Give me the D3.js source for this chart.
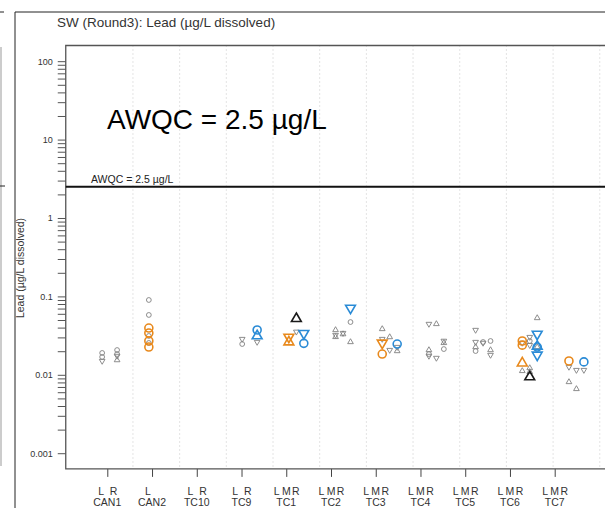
<!DOCTYPE html>
<html>
<head>
<meta charset="utf-8">
<script src="https://d3js.org/d3.v7.min.js"></script>
<style>
  body { margin: 0; background: #fff; }
  svg text { font-family: Arial, "Liberation Sans", sans-serif; }
</style>
</head>
<body>
<svg id="chart" width="605" height="508"></svg>
<script>
// categories along the bottom and the sampling sites under each one
const categories = ["CAN1", "CAN2", "TC10", "TC9", "TC1", "TC2", "TC3", "TC4", "TC5", "TC6", "TC7"];
const sites = [["L", "R"], ["L"], ["L", "R"], ["L", "R"], ["L", "M", "R"], ["L", "M", "R"],
  ["L", "M", "R"], ["L", "M", "R"], ["L", "M", "R"], ["L", "M", "R"], ["L", "M", "R"]];

const yTickValues = [0.001, 0.01, 0.1, 1, 10, 100];
const yTickLabels = ["0.001", "0.01", "0.1", "1", "10", "100"];
const awqc = 2.5;

// [category, site, shape, value]  shape: o circle, ^ up, v down
const grayPoints = [
  ["CAN1", "L", "o", 0.0190], ["CAN1", "L", "o", 0.0169], ["CAN1", "L", "v", 0.0150],
  ["CAN1", "R", "o", 0.0207], ["CAN1", "R", "o", 0.0184], ["CAN1", "R", "v", 0.0174], ["CAN1", "R", "^", 0.0154],
  ["CAN2", "L", "o", 0.090], ["CAN2", "L", "o", 0.058], ["CAN2", "L", "o", 0.0313], ["CAN2", "L", "o", 0.0255],
  ["TC9", "L", "v", 0.0286], ["TC9", "L", "o", 0.0247], ["TC9", "R", "v", 0.0262],
  ["TC1", "M", "v", 0.0354],
  ["TC2", "L", "^", 0.0373], ["TC2", "L", "v", 0.0322], ["TC2", "L", "^", 0.0304],
  ["TC2", "M", "v", 0.0341], ["TC2", "M", "^", 0.0330],
  ["TC2", "R", "o", 0.0471], ["TC2", "R", "^", 0.0262],
  ["TC3", "L", "^", 0.0384], ["TC3", "L", "v", 0.0286],
  ["TC3", "M", "^", 0.0303], ["TC3", "M", "v", 0.0207],
  ["TC3", "R", "v", 0.0226], ["TC3", "R", "^", 0.0201],
  ["TC4", "L", "v", 0.0445], ["TC4", "L", "^", 0.0207], ["TC4", "L", "o", 0.0184], ["TC4", "L", "v", 0.0174],
  ["TC4", "M", "^", 0.0445], ["TC4", "M", "v", 0.0164],
  ["TC4", "R", "v", 0.0271], ["TC4", "R", "^", 0.0255], ["TC4", "R", "o", 0.0213],
  ["TC5", "L", "v", 0.0373], ["TC5", "L", "v", 0.0262], ["TC5", "L", "^", 0.0226], ["TC5", "L", "o", 0.0201],
  ["TC5", "M", "v", 0.0255], ["TC5", "M", "o", 0.0262],
  ["TC5", "R", "o", 0.0270], ["TC5", "R", "^", 0.0207], ["TC5", "R", "v", 0.0179],
  ["TC6", "L", "v", 0.0255], ["TC6", "L", "^", 0.0112],
  ["TC6", "M", "v", 0.0303], ["TC6", "M", "o", 0.0270], ["TC6", "M", "v", 0.0239], ["TC6", "M", "^", 0.0122], ["TC6", "M", "^", 0.0109],
  ["TC6", "R", "^", 0.0530], ["TC6", "R", "^", 0.0226],
  ["TC7", "L", "v", 0.0126], ["TC7", "L", "^", 0.0081],
  ["TC7", "M", "v", 0.0115], ["TC7", "M", "^", 0.0066],
  ["TC7", "R", "v", 0.0115]
];
const blackPoints = [
  ["TC1", "M", "^", 0.052],
  ["TC6", "M", "^", 0.0094]
];
const orangePoints = [
  ["CAN2", "L", "o", 0.0395], ["CAN2", "L", "o", 0.0341], ["CAN2", "L", "o", 0.0270], ["CAN2", "L", "o", 0.0226],
  ["TC1", "L", "v", 0.0303], ["TC1", "L", "^", 0.0262],
  ["TC3", "L", "v", 0.0255], ["TC3", "L", "o", 0.0184],
  ["TC6", "L", "o", 0.0270], ["TC6", "L", "o", 0.0239], ["TC6", "L", "^", 0.0141],
  ["TC7", "L", "o", 0.0150]
];
const bluePoints = [
  ["TC9", "R", "o", 0.0373], ["TC9", "R", "^", 0.0313],
  ["TC1", "R", "v", 0.0338], ["TC1", "R", "o", 0.0252],
  ["TC2", "R", "v", 0.0711],
  ["TC3", "R", "o", 0.0247],
  ["TC6", "R", "v", 0.0331], ["TC6", "R", "^", 0.0230], ["TC6", "R", "o", 0.0226], ["TC6", "R", "v", 0.0179],
  ["TC7", "R", "o", 0.0146]
];

const svg = d3.select("#chart");
const plot = { left: 65.75, right: 620.3, top: 45.5, bottom: 468.9 };

// points and separators sit on one spacing, the axis labels on a slightly tighter one
const x = d3.scaleLinear().domain([0.06, 11.94]).range([plot.left, plot.right]);
const xLab = d3.scaleLinear().domain([1, 11]).range([107.3, 554.7]);
const y = d3.scaleLog().domain([Math.pow(10, -3.2), Math.pow(10, 2.2)]).range([plot.bottom, plot.top]);
const siteOffset = { L: -0.16, M: 0, R: 0.16 };

// outer panel frame and the edge of the neighbouring panel
svg.append("path").attr("d", "M15,508V12H605").attr("fill", "none").attr("stroke", "#222").attr("stroke-width", 1);
svg.append("line").attr("x1", 0).attr("x2", 4).attr("y1", 12).attr("y2", 12).attr("stroke", "#222");
svg.append("line").attr("x1", 1).attr("x2", 1).attr("y1", 47).attr("y2", 466).attr("stroke", "#999");
svg.append("line").attr("x1", 0).attr("x2", 5).attr("y1", 186).attr("y2", 186).attr("stroke", "#222");

svg.append("text").attr("x", 57).attr("y", 27).attr("font-size", 13.5).attr("fill", "#333")
  .text("SW (Round3): Lead (\u00b5g/L dissolved)");

// dotted separators between categories
svg.append("g").selectAll("line")
  .data(d3.range(1.5, 12, 1))
  .join("line")
  .attr("x1", d => x(d)).attr("x2", d => x(d))
  .attr("y1", plot.top).attr("y2", plot.bottom)
  .attr("stroke", "#c8c8c8").attr("stroke-dasharray", "1,3");

// y axis with minor log ticks
const minorTicks = [];
yTickValues.forEach((v, i) => {
  minorTicks.push(v);
  if (i < yTickValues.length - 1) for (let k = 2; k <= 9; k++) minorTicks.push(v * k);
});
const yAxis = svg.append("g").attr("transform", `translate(${plot.left},0)`)
  .call(d3.axisLeft(y).tickValues(minorTicks).tickSize(8).tickPadding(5)
    .tickFormat(d => { const i = yTickValues.indexOf(d); return i >= 0 ? yTickLabels[i] : ""; }));
yAxis.select(".domain").remove();
yAxis.selectAll(".tick line").attr("stroke", "#555");
yAxis.selectAll(".tick text").attr("font-size", 9).attr("fill", "#333").attr("font-family", "Arial, sans-serif");

svg.append("text")
  .attr("transform", "translate(24,268) rotate(-90)")
  .attr("text-anchor", "middle").attr("font-size", 10.5).attr("fill", "#333")
  .text("Lead (\u00b5g/L dissolved)");

// x axis ticks
const xAxis = svg.append("g").attr("transform", `translate(0,${plot.bottom})`)
  .call(d3.axisBottom(xLab).tickValues(categories.map((c, i) => i + 1)).tickSize(8).tickFormat(""));
xAxis.select(".domain").remove();
xAxis.selectAll(".tick line").attr("stroke", "#444");

const labels = svg.append("g").attr("font-size", 10.5).attr("fill", "#333").attr("text-anchor", "middle");
categories.forEach((c, i) => {
  const n = sites[i].length;
  const gap = n === 3 ? 9.5 : 12.5;
  const shift = n === 1 ? -4 : 0;
  sites[i].forEach((s, j) => {
    labels.append("text")
      .attr("x", xLab(i + 1) + shift + gap * (j - (n - 1) / 2))
      .attr("y", 495).text(s);
  });
  labels.append("text").attr("x", xLab(i + 1)).attr("y", 505.5).text(c);
});

// plot box
svg.append("path")
  .attr("d", `M${plot.right},${plot.top}H${plot.left}V${plot.bottom}H${plot.right}`)
  .attr("fill", "none").attr("stroke", "#555").attr("stroke-width", 1.3);

// guideline
svg.append("line")
  .attr("x1", plot.left).attr("x2", 605)
  .attr("y1", y(awqc)).attr("y2", y(awqc))
  .attr("stroke", "#111").attr("stroke-width", 2);
svg.append("text").attr("x", 91).attr("y", y(awqc) - 4).attr("font-size", 10.5).attr("fill", "#222")
  .text("AWQC = 2.5 \u00b5g/L");
svg.append("text").attr("x", 107).attr("y", 129).attr("font-size", 28).attr("fill", "#000")
  .text("AWQC = 2.5 \u00b5g/L");

const catIndex = c => categories.indexOf(c) + 1;

function drawPoints(data, color, small) {
  const triSize = small ? 14 : 42;
  const circleR = small ? 2.4 : 4;
  const sw = small ? 0.9 : 1.6;
  const g = svg.append("g").attr("fill", "none").attr("stroke", color).attr("stroke-width", sw);
  data.forEach(d => {
    const px = x(catIndex(d[0]) + siteOffset[d[1]]);
    const py = y(d[3]);
    if (d[2] === "o") {
      g.append("circle").attr("cx", px).attr("cy", py).attr("r", circleR);
    } else {
      g.append("path")
        .attr("d", d3.symbol().type(d3.symbolTriangle).size(triSize)())
        .attr("transform", `translate(${px},${py})` + (d[2] === "v" ? " rotate(180)" : ""));
    }
  });
}

drawPoints(grayPoints, "#808080", true);
drawPoints(blackPoints, "#1a1a1a", false);
drawPoints(orangePoints, "#E8891C", false);
drawPoints(bluePoints, "#2A8BD6", false);
</script>
</body>
</html>
